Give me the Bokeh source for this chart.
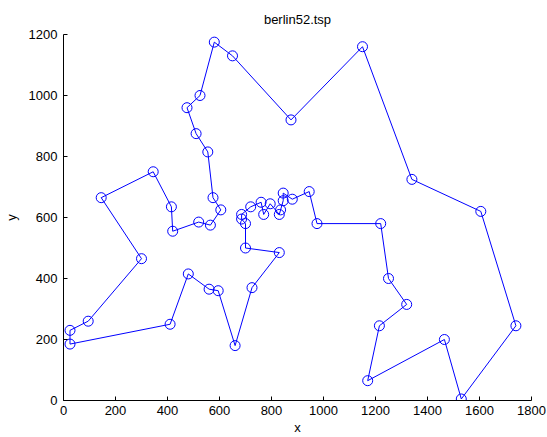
from bokeh.plotting import figure
from bokeh.models import FixedTicker, Range1d
from bokeh.embed import file_html
from bokeh.resources import INLINE

# berlin52 tour (in visiting order)
tour_x = [565, 605, 575, 555, 510, 475, 525, 580, 650, 875, 1150, 1340, 1605, 1740,
          1530, 1465, 1170, 1215, 1320, 1250, 1220, 975, 945, 880, 845, 845, 835, 830,
          795, 770, 760, 720, 685, 685, 700, 700, 830, 725, 660, 595, 560, 480, 410,
          25, 25, 95, 300, 145, 345, 415, 420, 520]
tour_y = [575, 625, 665, 815, 875, 960, 1000, 1175, 1130, 920, 1160, 725, 620, 245,
          5, 200, 65, 245, 315, 400, 580, 580, 685, 660, 680, 655, 625, 610,
          645, 610, 650, 635, 610, 595, 580, 500, 485, 370, 180, 360, 365, 415, 250,
          185, 230, 260, 465, 665, 750, 635, 555, 585]
x_ticks = [0, 200, 400, 600, 800, 1000, 1200, 1400, 1600, 1800]
y_ticks = [0, 200, 400, 600, 800, 1000, 1200]
title_text = "berlin52.tsp"
x_label = "x"
y_label = "y"

FONT = "Liberation Sans"

p = figure(width=547, height=437, output_backend="svg", toolbar_location=None,
           x_range=Range1d(0, 1800), y_range=Range1d(0, 1200),
           min_border_left=63, min_border_right=16, min_border_top=34, min_border_bottom=36)
p.outline_line_color = None
p.grid.visible = False
p.background_fill_color = "white"
p.border_fill_color = "white"

p.title.text = title_text
p.title.align = "center"
p.title.text_font = FONT
p.title.text_font_size = "13px"
p.title.text_font_style = "normal"
p.title.text_color = "black"
p.title.standoff = 15

for ax, ticks in ((p.xaxis[0], x_ticks), (p.yaxis[0], y_ticks)):
    ax.ticker = FixedTicker(ticks=ticks)
    ax.minor_tick_line_color = None
    ax.major_tick_in = 4
    ax.major_tick_out = 0
    ax.axis_line_color = "black"
    ax.major_tick_line_color = "black"
    ax.major_label_text_font = FONT
    ax.major_label_text_font_size = "13px"
    ax.major_label_text_color = "black"
    ax.axis_label_text_font = FONT
    ax.axis_label_text_font_size = "13px"
    ax.axis_label_text_font_style = "normal"
    ax.axis_label_text_color = "black"
p.xaxis.major_label_standoff = 5
p.yaxis.major_label_standoff = 6
p.xaxis.axis_label = x_label
p.yaxis.axis_label = y_label
p.xaxis.axis_label_standoff = 2
p.yaxis.axis_label_standoff = 7

cx = tour_x + tour_x[:1]
cy = tour_y + tour_y[:1]
p.line(cx, cy, line_color="#0000ff", line_width=1)
p.scatter(tour_x, tour_y, marker="circle", size=10, fill_color=None,
          line_color="#0000ff", line_width=1)

open("out.html", "w").write(file_html(p, INLINE))
